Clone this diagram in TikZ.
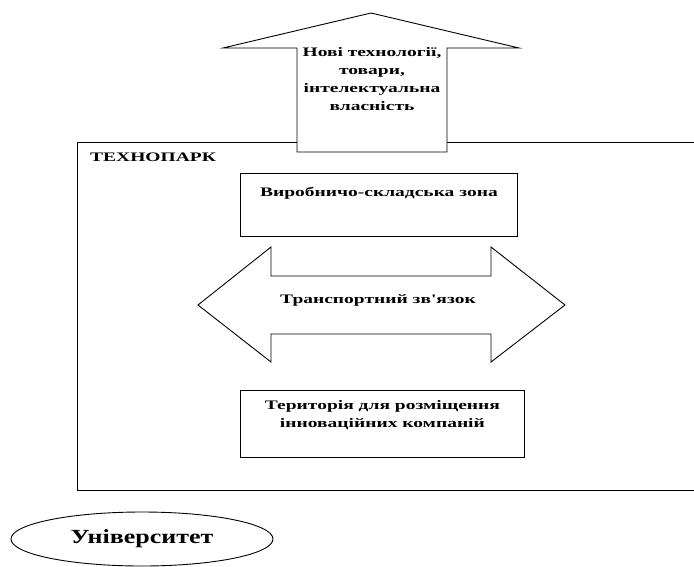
\documentclass[tikz,border=0pt]{standalone}
\usepackage{fontspec}
\setmainfont{Liberation Serif}
\newfontfamily\boxfont[FakeStretch=1.5]{Liberation Serif}
\newfontfamily\unifont[FakeStretch=1.3]{Liberation Serif}
\usetikzlibrary{positioning,shapes.geometric}
\begin{document}
\begin{tikzpicture}[
        x=1pt,
        y=-1pt,
        box/.style={
            rectangle,
            draw,
            fill=white,
            line width=0.9pt,
            inner sep=0pt
        },
        blockarrow/.style={
            draw,
            fill=white,
            line width=0.9pt,
            line join=miter
        },
        lbl/.style={
            font=\boxfont\bfseries\fontsize{13}{18}\selectfont,
            align=center,
            inner sep=0pt
        }
    ]
    \clip (0,0) rectangle (694,566);

    % Technopark frame
    \node[box, anchor=north west, minimum width=640pt, minimum height=348pt] (park) at (77,142) {};
    \node[lbl, anchor=north west] (parktitle) at ([shift={(13pt,-11pt)}]park.north west) {ТЕХНОПАРК};

    % Output arrow
    \draw[blockarrow] (297,152) -- (297,48) -- (223,48) -- (371,13) -- (519,48) -- (447,48) -- (447,152) -- cycle;
    \node[lbl] (output) at (372,79) {Нові технології,\\товари,\\інтелектуальна\\власність};

    % Zones
    \node[box, anchor=north west, minimum width=277pt, minimum height=63pt] (zone) at (240,173) {};
    \node[lbl, below=14pt of zone.north] (zonetext) {Виробничо-складська зона};

    \node[box, anchor=north west, minimum width=284pt, minimum height=67pt] (area) at (240,390) {};
    \node[lbl, below=10pt of area.north] (areatext) {Територія для розміщення\\інноваційних компаній};

    % Transport link
    \draw[blockarrow] (198,305) -- (271,247) -- (271,276) -- (491,276) -- (491,247) -- (565,305)
        -- (491,362) -- (491,334) -- (271,334) -- (271,362) -- cycle;
    \node[lbl] (transport) at (378,300) {Транспортний зв'язок};

    % University
    \node[draw, ellipse, line width=0.9pt, minimum width=262pt, minimum height=54pt,
        font=\unifont\bfseries\fontsize{20}{24}\selectfont] (uni) at (142,539) {Університет};

\end{tikzpicture}
\end{document}
